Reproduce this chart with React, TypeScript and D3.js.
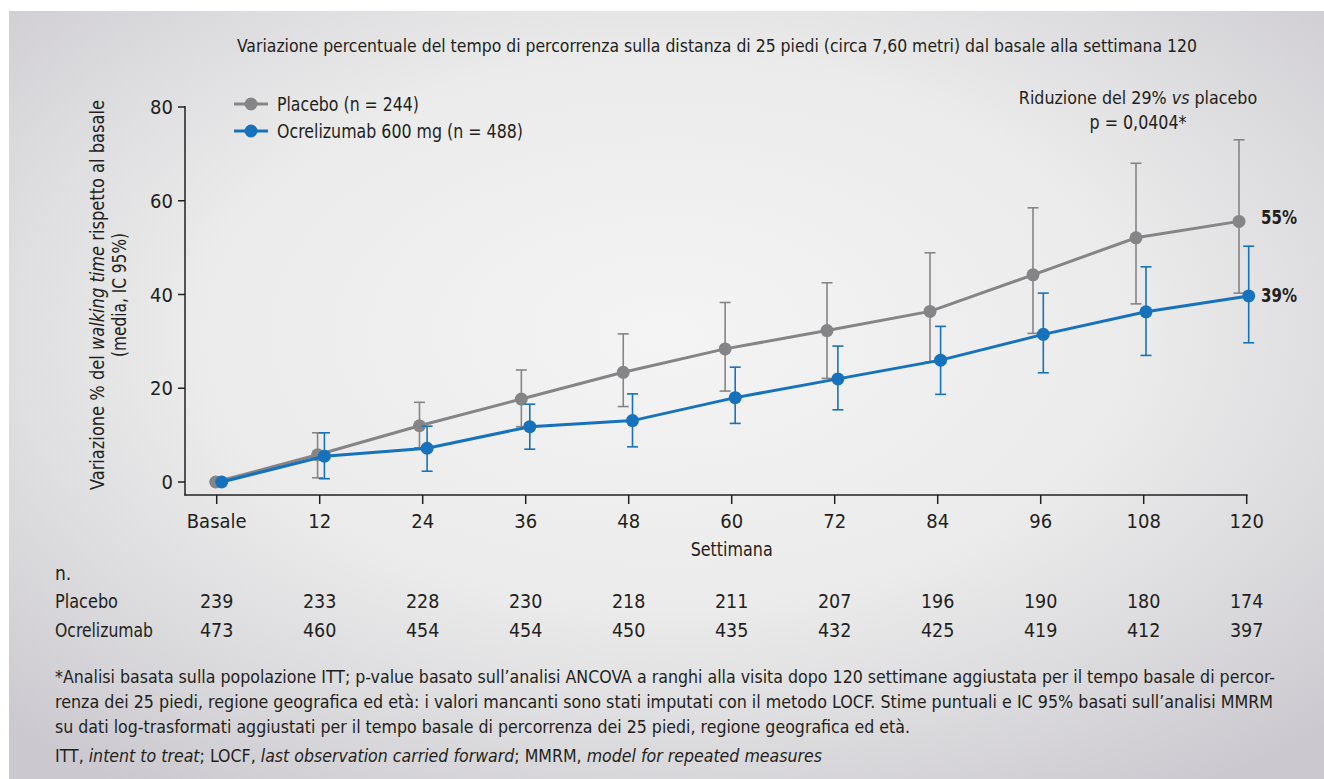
import React from "react";
import * as d3 from "d3";

const weeks = [0, 12, 24, 36, 48, 60, 72, 84, 96, 108, 120];
const weekLabels = ["Basale", "12", "24", "36", "48", "60", "72", "84", "96", "108", "120"];
const yTicks = [0, 20, 40, 60, 80];

const placeboMean = [0, 5.8, 12.0, 17.7, 23.4, 28.4, 32.3, 36.4, 44.2, 52.1, 55.6];
const placeboLow = [null, 0.9, 7.3, 11.8, 16.1, 19.4, 22.1, 25.6, 31.7, 38.0, 40.3];
const placeboHigh = [null, 10.5, 17.0, 23.9, 31.6, 38.3, 42.5, 48.9, 58.5, 68.0, 73.0];

const ocreMean = [0, 5.5, 7.2, 11.8, 13.1, 18.0, 22.0, 26.0, 31.5, 36.3, 39.7];
const ocreLow = [null, 0.7, 2.3, 7.0, 7.5, 12.5, 15.4, 18.7, 23.3, 27.0, 29.7];
const ocreHigh = [null, 10.5, 11.9, 16.6, 18.8, 24.5, 29.0, 33.2, 40.3, 45.9, 50.3];

const nPlacebo = [239, 233, 228, 230, 218, 211, 207, 196, 190, 180, 174];
const nOcre = [473, 460, 454, 454, 450, 435, 432, 425, 419, 412, 397];

const GRAY = "#858587";
const BLUE = "#1672bd";
const TXT = "#231f20";
const FONT = "'Liberation Sans Narrow', 'DejaVu Sans Condensed', 'Roboto', sans-serif";

type Seg = { t: string; i: boolean };

function FitText(props: { x: number; y: number; w?: number; size: number; anchor?: string; weight?: string; segs: Seg[] }) {
  const { x, y, w, size, anchor, weight, segs } = props;
  return (
    <text
      x={x}
      y={y}
      fontSize={size}
      fill={TXT}
      textAnchor={anchor || "start"}
      fontWeight={weight || "normal"}
      {...(w ? { textLength: w, lengthAdjust: "spacingAndGlyphs" } : {})}
    >
      {segs.map((s, k) => (
        <tspan key={k} fontStyle={s.i ? "italic" : "normal"}>{s.t}</tspan>
      ))}
    </text>
  );
}

export default function App() {
  const W = 1324, H = 779;
  const x = d3.scaleLinear().domain([0, 120]).range([216.7, 1246.7]);
  const y = d3.scaleLinear().domain([0, 80]).range([482, 107]);
  const line = d3.line<[number, number]>().x(d => d[0]).y(d => d[1]);

  const series = [
    { mean: placeboMean, low: placeboLow, high: placeboHigh, color: GRAY, dx: (w: number) => -1 - 6.7 * Math.min(w, 72) / 72 },
    { mean: ocreMean, low: ocreLow, high: ocreHigh, color: BLUE, dx: (w: number) => 5 - 3 * w / 120 },
  ];

  const footnote: { segs: Seg[]; w: number; size: number }[] = [
    { segs: [{ t: "*Analisi basata sulla popolazione ITT; p-value basato sull\u2019analisi ANCOVA a ranghi alla visita dopo 120 settimane aggiustata per il tempo basale di percor-", i: false }], w: 1220, size: 17.6 },
    { segs: [{ t: "renza dei 25 piedi, regione geografica ed età: i valori mancanti sono stati imputati con il metodo LOCF. Stime puntuali e IC 95% basati sull\u2019analisi MMRM", i: false }], w: 1218, size: 17.6 },
    { segs: [{ t: "su dati log-trasformati aggiustati per il tempo basale di percorrenza dei 25 piedi, regione geografica ed età.", i: false }], w: 855, size: 17.8 },
    {
      segs: [
        { t: "ITT, ", i: false }, { t: "intent to treat", i: true }, { t: "; LOCF, ", i: false },
        { t: "last observation carried forward", i: true }, { t: "; MMRM, ", i: false },
        { t: "model for repeated measures", i: true },
      ], w: 767, size: 17.8,
    },
  ];
  const footY = [683, 708, 733, 762];

  return (
    <div style={{ position: "absolute", left: 0, top: 0 }}>
      <svg width={W} height={H} style={{ display: "block", fontFamily: FONT }}>
        <defs>
          <radialGradient id="bg" cx="50%" cy="42%" r="72%">
            <stop offset="0%" stopColor="#f4f4f4" />
            <stop offset="50%" stopColor="#ebebeb" />
            <stop offset="100%" stopColor="#cbc9cf" />
          </radialGradient>
        </defs>
        <rect x={0} y={0} width={W} height={H} fill="#ffffff" />
        <rect x={9} y={11} width={W - 9} height={H - 11} fill="url(#bg)" />

        <FitText x={717} y={52} w={960} size={18.5} anchor="middle"
          segs={[{ t: "Variazione percentuale del tempo di percorrenza sulla distanza di 25 piedi (circa 7,60 metri) dal basale alla settimana 120", i: false }]} />

        {/* y axis label */}
        <g transform="translate(104,295) rotate(-90)">
          <FitText x={0} y={0} w={390} size={19} anchor="middle"
            segs={[{ t: "Variazione % del ", i: false }, { t: "walking time", i: true }, { t: " rispetto al basale", i: false }]} />
          <FitText x={0} y={22} w={124} size={19} anchor="middle" segs={[{ t: "(media, IC 95%)", i: false }]} />
        </g>

        {/* axes */}
        <line x1={185} x2={185} y1={106} y2={495.5} stroke={TXT} strokeWidth={1.5} />
        <line x1={184.3} x2={x(120) + 1} y1={495} y2={495} stroke={TXT} strokeWidth={1.5} />
        {yTicks.map(t => (
          <g key={t}>
            <line x1={178} x2={185} y1={y(t)} y2={y(t)} stroke={TXT} strokeWidth={1.5} />
            <text x={173} y={y(t) + 7} textAnchor="end" fontSize={20} fill={TXT}>{t}</text>
          </g>
        ))}
        {weeks.map((w, i) => (
          <g key={w}>
            <line x1={x(w)} x2={x(w)} y1={495} y2={504} stroke={TXT} strokeWidth={1.5} />
            <text x={x(w)} y={528} textAnchor="middle" fontSize={20} fill={TXT}>{weekLabels[i]}</text>
          </g>
        ))}
        <FitText x={x(60)} y={556} w={82} size={19} anchor="middle" segs={[{ t: "Settimana", i: false }]} />

        {/* series */}
        {series.map((s, si) => (
          <g key={si}>
            {weeks.map((w, i) => {
              if (s.low[i] == null) return null;
              const cx = x(w) + s.dx(w);
              return (
                <g key={i} stroke={s.color} strokeWidth={1.6}>
                  <line x1={cx} x2={cx} y1={y(s.low[i] as number)} y2={y(s.high[i] as number)} />
                  <line x1={cx - 5.5} x2={cx + 5.5} y1={y(s.low[i] as number)} y2={y(s.low[i] as number)} />
                  <line x1={cx - 5.5} x2={cx + 5.5} y1={y(s.high[i] as number)} y2={y(s.high[i] as number)} />
                </g>
              );
            })}
            <path d={line(weeks.map((w, i) => [x(w) + s.dx(w), y(s.mean[i])] as [number, number])) || ""} fill="none" stroke={s.color} strokeWidth={3} />
            {weeks.map((w, i) => (
              <circle key={i} cx={x(w) + s.dx(w)} cy={y(s.mean[i])} r={6.5} fill={s.color} />
            ))}
          </g>
        ))}

        <FitText x={1261} y={224} w={36} size={19} weight="bold" segs={[{ t: "55%", i: false }]} />
        <FitText x={1261} y={302} w={36} size={19} weight="bold" segs={[{ t: "39%", i: false }]} />

        <FitText x={1138} y={104} size={17.7} anchor="middle"
          segs={[{ t: "Riduzione del 29% ", i: false }, { t: "vs", i: true }, { t: " placebo", i: false }]} />
        <FitText x={1138} y={129} w={97} size={19} anchor="middle" segs={[{ t: "p = 0,0404*", i: false }]} />

        {/* legend */}
        <line x1={234} x2={268} y1={104} y2={104} stroke={GRAY} strokeWidth={3} />
        <circle cx={251} cy={104} r={6.5} fill={GRAY} />
        <FitText x={277} y={111} w={142} size={19} segs={[{ t: "Placebo (n = 244)", i: false }]} />
        <line x1={234} x2={268} y1={131} y2={131} stroke={BLUE} strokeWidth={3} />
        <circle cx={251} cy={131} r={6.5} fill={BLUE} />
        <FitText x={277} y={138} w={246} size={19} segs={[{ t: "Ocrelizumab 600 mg (n = 488)", i: false }]} />

        {/* n table */}
        <text x={55} y={580} fontSize={19} fill={TXT}>n.</text>
        <FitText x={55} y={608} w={63} size={19.5} segs={[{ t: "Placebo", i: false }]} />
        <FitText x={55} y={637} w={98} size={19.5} segs={[{ t: "Ocrelizumab", i: false }]} />
        {weeks.map((w, i) => (
          <g key={w}>
            <text x={x(w)} y={608} textAnchor="middle" fontSize={19.5} fill={TXT}>{nPlacebo[i]}</text>
            <text x={x(w)} y={637} textAnchor="middle" fontSize={19.5} fill={TXT}>{nOcre[i]}</text>
          </g>
        ))}

        {/* footnote */}
        {footnote.map((ln, li) => (
          <FitText key={li} x={55} y={footY[li]} w={ln.w} size={ln.size} segs={ln.segs} />
        ))}
      </svg>
    </div>
  );
}
